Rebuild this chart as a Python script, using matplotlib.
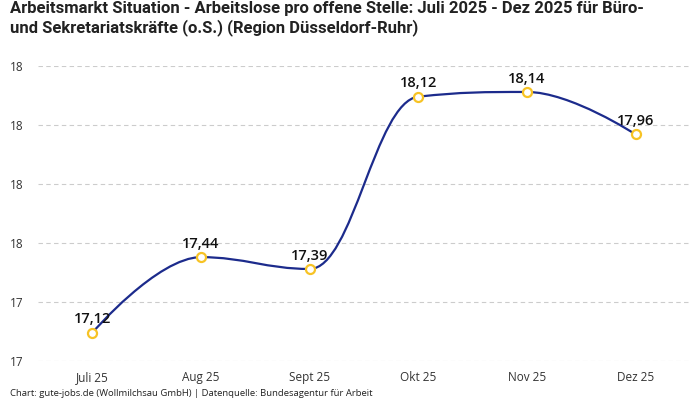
import matplotlib
matplotlib.use("Agg")
import matplotlib.pyplot as plt
from matplotlib.path import Path
from matplotlib.patches import PathPatch
from matplotlib.ticker import FuncFormatter

# data
months = ["Juli 25", "Aug 25", "Sept 25", "Okt 25", "Nov 25", "Dez 25"]
values = [17.12, 17.44, 17.39, 18.12, 18.14, 17.96]
y_ticks = [17.0, 17.25, 17.5, 17.75, 18.0, 18.25]

title = ("Arbeitsmarkt Situation - Arbeitslose pro offene Stelle: Juli 2025 - Dez 2025 für Büro-\n"
         "und Sekretariatskräfte (o.S.) (Region Düsseldorf-Ruhr)")
footer = "Chart: gute-jobs.de (Wollmilchsau GmbH) | Datenquelle: Bundesagentur für Arbeit"

LINE = "#1c2b8c"
MARKER = "#f7c325"

plt.rcParams["font.family"] = ["Open Sans", "DejaVu Sans"]

fig = plt.figure(figsize=(7, 4), dpi=100)
ax = fig.add_axes([38 / 700, 39 / 400, 652 / 700, 295 / 400])

xs = list(range(len(values)))


# spline like the original (smooth curve through the points)
def spline_path(x, y, smoothing=1.5):
    n = len(x)
    denom = smoothing + 1
    lc = [None] * n
    rc = [None] * n
    for i in range(1, n - 1):
        lx = (smoothing * x[i] + x[i - 1]) / denom
        ly = (smoothing * y[i] + y[i - 1]) / denom
        rx = (smoothing * x[i] + x[i + 1]) / denom
        ry = (smoothing * y[i] + y[i + 1]) / denom
        corr = (ry - ly) * (rx - x[i]) / (rx - lx) + y[i] - ry
        ly += corr
        ry += corr
        if ly > y[i - 1] and ly > y[i]:
            ly = max(y[i - 1], y[i]); ry = 2 * y[i] - ly
        elif ly < y[i - 1] and ly < y[i]:
            ly = min(y[i - 1], y[i]); ry = 2 * y[i] - ly
        if ry > y[i + 1] and ry > y[i]:
            ry = max(y[i + 1], y[i]); ly = 2 * y[i] - ry
        elif ry < y[i + 1] and ry < y[i]:
            ry = min(y[i + 1], y[i]); ly = 2 * y[i] - ry
        lc[i] = (lx, ly)
        rc[i] = (rx, ry)
    verts = [(x[0], y[0])]
    codes = [Path.MOVETO]
    for i in range(1, n):
        c1 = rc[i - 1] or (x[i - 1], y[i - 1])
        c2 = lc[i] or (x[i], y[i])
        verts += [c1, c2, (x[i], y[i])]
        codes += [Path.CURVE4] * 3
    return Path(verts, codes)


ax.add_patch(PathPatch(spline_path(xs, values), facecolor="none", edgecolor=LINE, lw=1.6, zorder=3))
ax.plot(xs, values, ls="none", marker="o", ms=6.5, mfc="white", mec=MARKER, mew=1.6, zorder=4)

for x, v in zip(xs, values):
    ax.annotate(f"{v:.2f}".replace(".", ","), (x, v), xytext=(0, 4.5), textcoords="offset points",
                ha="center", va="bottom", fontsize=10.5, fontweight="semibold", color="#111111", zorder=5)

ax.set_xlim(-0.5, len(values) - 0.5)
ax.set_ylim(17.0, 18.25)
ax.set_xticks(xs)
ax.set_xticklabels(months)
ax.set_yticks(y_ticks)
ax.yaxis.set_major_formatter(FuncFormatter(lambda v, p: f"{v:.0f}"))
ax.tick_params(axis="both", length=0, labelsize=8.5, colors="#333333")
ax.tick_params(axis="x", pad=7)
ax.tick_params(axis="y", pad=20)
for lab in ax.get_yticklabels():
    lab.set_horizontalalignment("left")

ax.grid(axis="y", color="#cccccc", ls=(0, (4, 3)), lw=0.8)
ax.set_axisbelow(True)
for s in ax.spines.values():
    s.set_visible(False)

fig.text(10 / 700, 1 - 1 / 400, title, ha="left", va="top", fontsize=12, fontweight="bold",
         family=["Roboto", "DejaVu Sans"], color="#222222", linespacing=1.25)
fig.text(10 / 700, 1 - 393 / 400, footer, ha="left", va="center", fontsize=6.8, color="#222222")

fig.savefig("out.png", dpi=100)
